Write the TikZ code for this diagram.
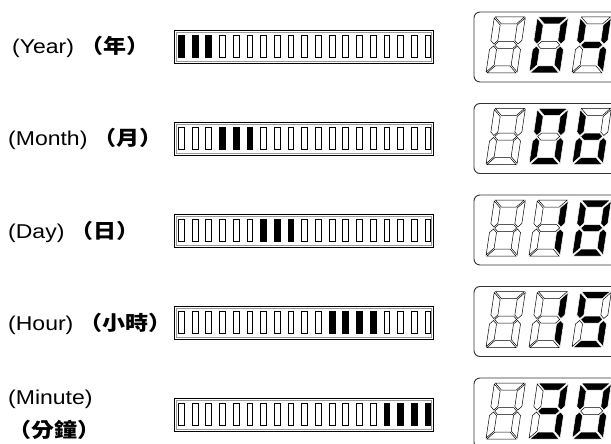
\documentclass[tikz,border=0pt]{standalone}
\usepackage{fontspec}
\setmainfont{Liberation Sans}[FakeStretch=1.15]
\newfontfamily\cjkfont{Noto Sans CJK TC}[FakeStretch=1.15]
\usetikzlibrary{positioning}
\tikzset{
  lcdbox/.style={
    draw=black!80, line width=0.9pt, rounded corners=6pt
  },
  barframe/.style={draw=black, line width=0.8pt},
  barinner/.style={draw=black!40, line width=0.5pt},
  cell0/.style={draw=black, line width=0.5pt, fill=white},
  cell1/.style={draw=black, line width=0.5pt, fill=black},
  seg0/.style={draw=black, line width=0.5pt, fill=white},
  seg1/.style={draw=white, line width=0.5pt, fill=black},
  rowlabel/.style={
    anchor=base west, inner sep=0pt,
    font=\fontsize{20}{24}\selectfont
  }
}
% digit at (x,y) = bottom left, segments a b c d e f g (1 = lit)
\newcommand{\lcddigit}[9]{%
  \begin{scope}[shift={(#1,#2)}, xslant=0.15]
    \path[seg#3] (-2.5,-52.5) -- (26.5,-52.5) -- (19.5,-45.5) -- (4.5,-45.5) -- cycle;
    \path[seg#4] (20.5,-44.5) -- (27.5,-51.5) -- (27.5,-29) -- (24,-25.5) -- (20.5,-29) -- cycle;
    \path[seg#5] (20.5,-4.5) -- (27.5,2.5) -- (27.5,-20) -- (24,-23.5) -- (20.5,-20) -- cycle;
    \path[seg#6] (-2.5,3.5) -- (26.5,3.5) -- (19.5,-3.5) -- (4.5,-3.5) -- cycle;
    \path[seg#7] (3.5,-4.5) -- (-3.5,2.5) -- (-3.5,-20) -- (0,-23.5) -- (3.5,-20) -- cycle;
    \path[seg#8] (3.5,-44.5) -- (-3.5,-51.5) -- (-3.5,-29) -- (0,-25.5) -- (3.5,-29) -- cycle;
    \path[seg#9] (1,-24.5) -- (4.5,-28) -- (19.5,-28) -- (23,-24.5) -- (19.5,-21) -- (4.5,-21) -- cycle;
  \end{scope}}
% bar of 19 cells at top y, cells #2..#3 lit
\newcommand{\levelbar}[3]{%
  \draw[barframe] (174,#1) rectangle (433,#1+33);
  \draw[barinner] (176,#1+2) rectangle (431,#1+31);
  \foreach \i in {1,...,19}{
    \pgfmathsetmacro\cx{178.3+(\i-1)*13.7}
    \ifnum\i<#2 \def\cs{cell0}\else\ifnum\i>#3 \def\cs{cell0}\else\def\cs{cell1}\fi\fi
    \path[\cs] (\cx,#1+5) rectangle (\cx+5.8,#1+27.5);
  }}
% display box with blank first digit at top y
\newcommand{\lcdbox}[1]{%
  \draw[lcdbox] (474,#1) rectangle (660,#1+70);
  \lcddigit{490}{#1+57.5}{0}{0}{0}{0}{0}{0}{0}}

\begin{document}
\begin{tikzpicture}[x=1pt, y=-1pt]
\useasboundingbox (0,0) rectangle (611,444);
\clip (0,0) rectangle (611,444);

% ── Row labels ────────────────────────────────────────────────────────────────

\node[rowlabel] (year)   at (12,54)  {(Year) {\cjkfont\bfseries （年）}};
\node[rowlabel] (month)  at (8,146)  {(Month) {\cjkfont\bfseries （月）}};
\node[rowlabel] (day)    at (8,238)  {(Day) {\cjkfont\bfseries （日）}};
\node[rowlabel] (hour)   at (8,330)  {(Hour) {\cjkfont\bfseries （小時）}};
\node[rowlabel] (minute) at (8,404)  {(Minute)};
\node[rowlabel] (minzh)  at (8,437)  {\cjkfont\bfseries （分鐘）};

% ── Level bars ────────────────────────────────────────────────────────────────

\levelbar{30}{1}{3}
\levelbar{122}{4}{6}
\levelbar{214}{7}{9}
\levelbar{306}{12}{15}
\levelbar{398}{16}{19}

% ── Seven segment displays ────────────────────────────────────────────────────

% 04
\lcdbox{12}
\lcddigit{533}{69.5}{1}{1}{1}{1}{1}{1}{0}
\lcddigit{576}{69.5}{0}{1}{1}{0}{0}{1}{1}
% 06
\lcdbox{103.5}
\lcddigit{533}{161}{1}{1}{1}{1}{1}{1}{0}
\lcddigit{576}{161}{0}{0}{1}{1}{1}{1}{1}
% 18
\lcdbox{195}
\lcddigit{533}{252.5}{0}{1}{1}{0}{0}{0}{0}
\lcddigit{576}{252.5}{1}{1}{1}{1}{1}{1}{1}
% 15
\lcdbox{286.5}
\lcddigit{533}{344}{0}{1}{1}{0}{0}{0}{0}
\lcddigit{576}{344}{1}{0}{1}{1}{0}{1}{1}
% 30
\lcdbox{378}
\lcddigit{533}{435.5}{1}{1}{1}{1}{0}{0}{1}
\lcddigit{576}{435.5}{1}{1}{1}{1}{1}{1}{0}

\end{tikzpicture}
\end{document}
